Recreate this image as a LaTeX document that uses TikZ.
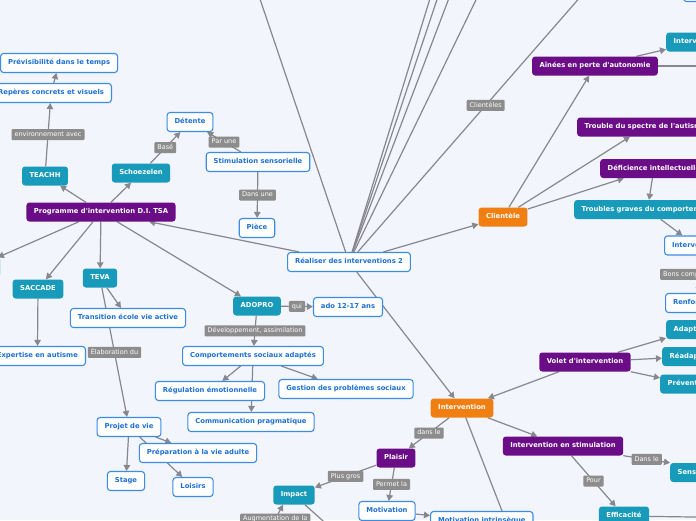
\documentclass[tikz,border=0pt]{standalone}
\usepackage{fontspec}
\newfontfamily\mapfont{DejaVu Sans}
\usepackage{xcolor}
\usepackage{tikz}
\usetikzlibrary{arrows.meta, backgrounds}
\definecolor{paper}{RGB}{243,245,253}
\definecolor{leafline}{RGB}{58,140,228}
\definecolor{leaftext}{RGB}{28,112,214}
\definecolor{toolcyan}{RGB}{24,155,187}
\definecolor{grouppurple}{RGB}{106,13,134}
\definecolor{huborange}{RGB}{240,126,16}
\definecolor{taggray}{RGB}{140,140,140}
\definecolor{linegray}{RGB}{135,135,140}
\tikzset{
  box/.style={rectangle, rounded corners=3pt, minimum height=19pt, inner xsep=7.5pt, inner ysep=0pt, text height=5.2pt, text depth=1.5pt, font=\mapfont\bfseries\fontsize{6.8}{8}\selectfont},
  leaf/.style={box, draw=leafline, line width=1.1pt, fill=white, text=leaftext},
  tool/.style={box, fill=toolcyan, text=white},
  group/.style={box, fill=grouppurple, text=white},
  hub/.style={box, fill=huborange, text=white},
  tag/.style={rectangle, rounded corners=1pt, fill=taggray, text=white, inner xsep=3pt, inner ysep=0pt, minimum height=11pt, text height=4.8pt, text depth=1.3pt, font=\mapfont\fontsize{6.5}{8}\selectfont},
  link/.style={draw=linegray, line width=1.2pt},
  arrow/.style={link, -{Triangle[length=6pt,width=6.5pt]}}
}

\begin{document}
\begin{tikzpicture}[x=1pt, y=-1pt]
\useasboundingbox (0,0) rectangle (696,520);
\begin{scope}[on background layer]
  \fill[paper] (0,0) rectangle (696,520);
\end{scope}
\clip (0,0) rectangle (696,520);

% centre
\node[leaf] (realiser) at (349,262) {Réaliser des interventions 2};

% programme branch
\node[group] (programme) at (101,212) {Programme d\textquotesingle intervention D.I. TSA};
\node[tool] (teachh) at (45,176) {TEACHH};
\node[leaf, anchor=east] (reperes) at (112,93) {Repères concrets et visuels};
\node[leaf, anchor=west] (prevision) at (0,63) {Prévisibilité dans le temps};
\node[tool] (schoe) at (141,173) {Schoezelen};
\node[leaf] (detente) at (190,122) {Détente};
\node[leaf] (stimu) at (258,162) {Stimulation sensorielle};
\node[leaf] (piece) at (257,228) {Pièce};
\node[tool, fill=toolcyan!22, anchor=east, minimum width=50pt] (leftnode) at (1,267) {};
\node[tool] (saccade) at (38,289) {SACCADE};
\node[leaf, anchor=east] (expertise) at (86,356) {Expertise en autisme};
\node[tool] (teva) at (100,278) {TEVA};
\node[leaf] (transition) at (128,318) {Transition école vie active};
\node[leaf] (projet) at (129,427) {Projet de vie};
\node[leaf] (preparation) at (198,453) {Préparation à la vie adulte};
\node[leaf] (stage) at (126,481) {Stage};
\node[leaf] (loisirs) at (193,487) {Loisirs};
\node[tool] (adopro) at (257,306) {ADOPRO};
\node[leaf] (ado) at (348,307) {ado 12-17 ans};
\node[leaf] (comport) at (253,356) {Comportements sociaux adaptés};
\node[leaf] (regul) at (210,391) {Régulation émotionnelle};
\node[leaf] (gestion) at (346,389) {Gestion des problèmes sociaux};
\node[leaf] (commu) at (251,422) {Communication pragmatique};

% intervention branch
\node[hub] (intervention) at (462,408) {Intervention};
\node[group] (plaisir) at (396,458) {Plaisir};
\node[tool] (impact) at (294,495) {Impact};
\node[leaf] (motivation) at (387,511) {Motivation};
\node[leaf, anchor=west] (intrinseque) at (430,521) {Motivation intrinsèque};
\node[group] (intstim) at (563,446) {Intervention en stimulation};
\node[tool, anchor=west] (sens) at (670,472.5) {Sensoriel};
\node[tool] (efficacite) at (624,516) {Efficacité};
\node[group] (volet) at (585,362) {Volet d\textquotesingle intervention};
\node[tool, anchor=west] (adapt) at (666,329.5) {Adaptation};
\node[tool, anchor=west] (readapt) at (662,356.5) {Réadaptation};
\node[tool, anchor=west] (prevent) at (660,384) {Prévention};

% clientele branch
\node[hub] (clientele) at (503,217) {Clientèle};
\node[group] (ainees) at (595,66) {Aînées en perte d\textquotesingle autonomie};
\node[tool, anchor=west] (intervtop) at (666,42) {Intervention};
\node[leaf, anchor=west, minimum width=70pt] (topwhite) at (683,-8) {};
\node[group, anchor=west] (trouble) at (577,127) {Trouble du spectre de l\textquotesingle autisme};
\node[group, anchor=west] (deficience) at (600,168.5) {Déficience intellectuelle};
\node[tool, anchor=west] (graves) at (574,209.5) {Troubles graves du comportement};
\node[leaf, anchor=west] (intervw) at (664,245.5) {Intervention};
\node[leaf, anchor=west] (renfo) at (665,303) {Renforcement};

% free ends outside the frame
\coordinate (up1) at (240,-60);
\coordinate (up2) at (448,-60);
\coordinate (up3) at (457,-60);
\coordinate (up4) at (471,-60);
\coordinate (up5) at (505,-60);
\coordinate (up6) at (630,-60);
\coordinate (down1) at (525,570);
\coordinate (down2) at (350,545);
\coordinate (augsrc) at (240,585);
\coordinate (right1) at (760,518);
\coordinate (right2) at (760,66);

\begin{scope}[on background layer]
\clip (0,0) rectangle (696,520);
\draw[link] (realiser) -- (up1);
\draw[link] (realiser) -- (up2);
\draw[link] (realiser) -- (up3);
\draw[link] (realiser) -- (up4);
\draw[link] (realiser) -- (up5);
\draw[link] (realiser) -- node[tag, pos=0.47] (cltag) {Clientèles} (up6);
\draw[arrow] (realiser) -- (programme);
\draw[arrow] (realiser) -- (clientele);
\draw[arrow] (realiser) -- (intervention);

\draw[arrow] (programme) -- (teachh);
\draw[arrow] (programme) -- (schoe);
\draw[arrow] (programme) -- (leftnode);
\draw[arrow] (programme) -- (saccade);
\draw[arrow] (programme) -- (teva);
\draw[arrow] (programme) -- (adopro);
\draw[arrow] (teachh) -- node[tag] {environnement avec} (reperes);
\draw[arrow] (reperes) -- (prevision);
\draw[arrow] (schoe) -- node[tag] {Basé} (detente);
\draw[arrow] (stimu) -- node[tag] {Par une} (detente);
\draw[arrow] (stimu) -- node[tag] {Dans une} (piece);
\draw[arrow] (saccade) -- (expertise);
\draw[arrow] (teva) -- (transition);
\draw[arrow] (teva) -- node[tag] {Élaboration du} (projet);
\draw[arrow] (projet) -- (preparation);
\draw[arrow] (projet) -- (stage);
\draw[arrow] (projet) -- (loisirs);
\draw[arrow] (adopro) -- node[tag] {qui} (ado);
\draw[arrow] (adopro) -- node[tag] {Développement, assimilation} (comport);
\draw[arrow] (comport) -- (regul);
\draw[arrow] (comport) -- (commu);
\draw[arrow] (comport) -- (gestion);

\draw[arrow] (intervention) -- node[tag] {dans le} (plaisir);
\draw[arrow] (plaisir) -- node[tag] {Plus gros} (impact);
\draw[arrow] (plaisir) -- node[tag] {Permet la} (motivation);
\draw[arrow] (motivation) -- (intrinseque);
\draw[link] (intervention) -- (down1);
\draw[arrow] (augsrc) -- node[tag, pos=0.82] {Augmentation de la} ([xshift=-11pt]impact.south);
\draw[link] (impact) -- (down2);
\draw[arrow] (intervention) -- (intstim);
\draw[arrow] (volet) -- (intervention);
\draw[arrow] (volet) -- (adapt);
\draw[arrow] (volet) -- (readapt);
\draw[arrow] (volet) -- (prevent);
\draw[arrow] (intstim.south east) -- node[tag] {Dans le} (sens.north west);
\draw[arrow] (intstim) -- node[tag] {Pour} (efficacite);
\draw[link] (efficacite) -- (right1);

\draw[arrow] (clientele) -- (ainees);
\draw[arrow] (clientele) -- (trouble);
\draw[arrow] (clientele) -- (deficience);
\draw[arrow] (deficience) -- (graves);
\draw[arrow] (graves) -- (intervw);
\draw[arrow] (intervw) -- node[tag] {Bons comportements} (renfo);
\draw[arrow] (ainees) -- (intervtop);
\draw[link] (ainees) -- (right2);
\end{scope}
\end{tikzpicture}
\end{document}
